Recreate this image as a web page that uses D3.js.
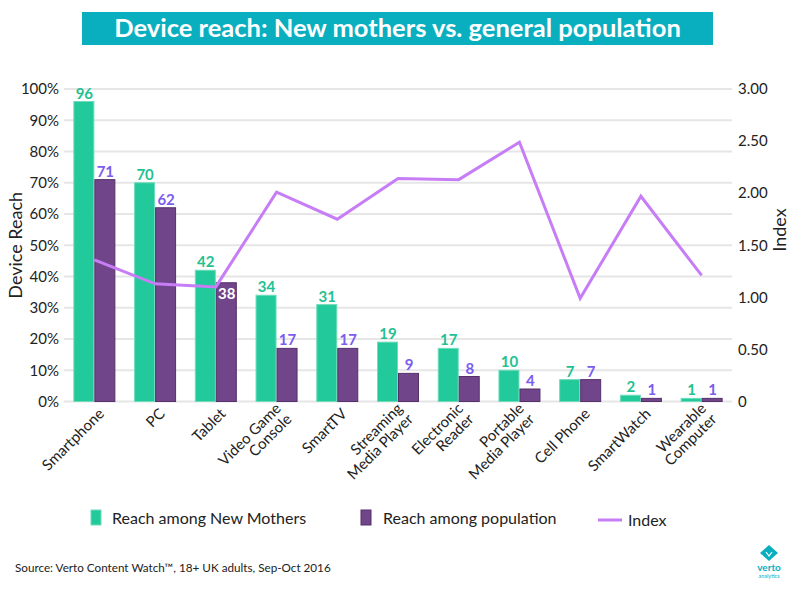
<!DOCTYPE html>
<html>
<head>
<meta charset="utf-8">
<script src="https://cdn.jsdelivr.net/npm/d3@7"></script>
<style>
  html, body { margin: 0; padding: 0; background: #fff; }
  svg { display: block; font-family: Lato, "Open Sans", sans-serif; }
</style>
</head>
<body>
<svg id="chart" width="793" height="593"></svg>
<script>
const categories = ["Smartphone", "PC", "Tablet", "Video Game\nConsole", "SmartTV",
  "Streaming\nMedia Player", "Electronic\nReader", "Portable\nMedia Player",
  "Cell Phone", "SmartWatch", "Wearable\nComputer"];
const newMothers = [96, 70, 42, 34, 31, 19, 17, 10, 7, 2, 1];
const population = [71, 62, 38, 17, 17, 9, 8, 4, 7, 1, 1];
const indexValues = [1.36, 1.13, 1.10, 2.01, 1.75, 2.14, 2.13, 2.49, 0.99, 1.97, 1.21];
const leftTicks = [0, 10, 20, 30, 40, 50, 60, 70, 80, 90, 100];
const rightTicks = [0, 0.5, 1, 1.5, 2, 2.5, 3];
const seriesNames = ["Reach among New Mothers", "Reach among population", "Index"];

const C = {
  green: "#22c99a", greenStroke: "#6fdcbb", greenLabel: "#1fc290",
  purple: "#714589", purpleStroke: "#55306b", purpleLabel: "#7b5cf0",
  line: "#c77df5", grid: "#e6e6e6", banner: "#0aafbf", text: "#222"
};

const svg = d3.select("#chart");
const m = { left: 64, right: 732, top: 89, bottom: 401.5 };

const xc = d3.scaleBand().domain(categories).range([m.left, m.right]);
const y = d3.scaleLinear().domain([0, 100]).range([m.bottom, m.top]);
const y2 = d3.scaleLinear().domain([0, 3]).range([m.bottom, m.top]);

// title banner
svg.append("rect").attr("x", 82).attr("y", 12).attr("width", 631).attr("height", 33).attr("fill", C.banner);
svg.append("text").attr("x", 397.5).attr("y", 37).attr("text-anchor", "middle")
  .attr("fill", "#fff").attr("font-size", 25.5).attr("font-weight", 700)
  .text("Device reach: New mothers vs. general population");

// gridlines
svg.append("g").selectAll("line").data(leftTicks).join("line")
  .attr("x1", m.left).attr("x2", m.right)
  .attr("y1", d => y(d)).attr("y2", d => y(d))
  .attr("stroke", C.grid).attr("stroke-width", 2);

// left axis
const la = svg.append("g").attr("transform", `translate(${m.left - 5},0)`)
  .call(d3.axisLeft(y).tickValues(leftTicks).tickFormat(d => d + "%").tickSize(0).tickPadding(0));
la.select(".domain").remove();
la.selectAll("text").attr("font-size", 15).attr("fill", C.text).attr("font-family", "Lato, sans-serif");

// right axis
const ra = svg.append("g").attr("transform", `translate(${m.right + 6},0)`)
  .call(d3.axisRight(y2).tickValues(rightTicks).tickFormat(d => d === 0 ? "0" : d3.format(".2f")(d)).tickSize(0).tickPadding(0));
ra.select(".domain").remove();
ra.selectAll("text").attr("font-size", 15).attr("fill", C.text).attr("font-family", "Lato, sans-serif");

// axis titles
svg.append("text").attr("transform", `translate(22,${(m.top + m.bottom) / 2}) rotate(-90)`)
  .attr("text-anchor", "middle").attr("font-size", 18).attr("fill", C.text).text("Device Reach");
svg.append("text").attr("transform", `translate(786,230) rotate(-90)`)
  .attr("text-anchor", "middle").attr("font-size", 18).attr("fill", C.text).text("Index");

const bw = 20;
// bars
const g = svg.append("g");
categories.forEach((c, i) => {
  const cx = xc(c) + xc.bandwidth() / 2;
  g.append("rect").attr("x", cx - bw - 0.5).attr("width", bw).attr("y", y(newMothers[i]))
    .attr("height", y(0) - y(newMothers[i])).attr("fill", C.green)
    .attr("stroke", C.greenStroke).attr("stroke-width", 1);
  g.append("rect").attr("x", cx + 0.5).attr("width", bw).attr("y", y(population[i]))
    .attr("height", y(0) - y(population[i])).attr("fill", C.purple)
    .attr("stroke", C.purpleStroke).attr("stroke-width", 1);
});

// index line
const line = d3.line().x((d, i) => xc(categories[i]) + xc.bandwidth() / 2).y(d => y2(d));
svg.append("path").datum(indexValues).attr("d", line).attr("fill", "none")
  .attr("stroke", C.line).attr("stroke-width", 3).attr("stroke-linejoin", "miter");

// value labels
categories.forEach((c, i) => {
  const cx = xc(c) + xc.bandwidth() / 2;
  svg.append("text").attr("x", cx - bw / 2).attr("y", y(newMothers[i]) - 3)
    .attr("text-anchor", "middle").attr("font-size", 15).attr("font-weight", 700)
    .attr("fill", C.greenLabel).text(newMothers[i]);
  const inside = i === 2;
  svg.append("text").attr("x", cx + bw / 2 + 1).attr("y", inside ? y(population[i]) + 16 : y(population[i]) - 3)
    .attr("text-anchor", "middle").attr("font-size", 15).attr("font-weight", 700)
    .attr("fill", inside ? "#fff" : C.purpleLabel).text(population[i]);
});

// x labels
categories.forEach(c => {
  const cx = xc(c) + xc.bandwidth() / 2;
  const lines = c.split("\n");
  const t = svg.append("text").attr("transform", `translate(${cx + 7},${411}) rotate(-45)`)
    .attr("text-anchor", "end").attr("font-size", 15).attr("fill", C.text);
  lines.forEach((l, j) => {
    t.append("tspan").attr("x", 0).attr("dy", j === 0 ? ((-(lines.length - 1) / 2) * 1.0 + 0.35) + "em" : "1.0em").text(l);
  });
});

// legend
const lg = svg.append("g");
lg.append("rect").attr("x", 91).attr("y", 510).attr("width", 10).attr("height", 15).attr("fill", C.green).attr("stroke", C.greenStroke);
lg.append("text").attr("x", 112).attr("y", 524).attr("font-size", 16).attr("fill", C.text).text(seriesNames[0]);
lg.append("rect").attr("x", 361).attr("y", 510).attr("width", 10).attr("height", 15).attr("fill", C.purple).attr("stroke", C.purpleStroke);
lg.append("text").attr("x", 383).attr("y", 524).attr("font-size", 16).attr("fill", C.text).text(seriesNames[1]);
lg.append("line").attr("x1", 598).attr("x2", 622).attr("y1", 520).attr("y2", 520).attr("stroke", C.line).attr("stroke-width", 3);
lg.append("text").attr("x", 628).attr("y", 526).attr("font-size", 16).attr("fill", C.text).text(seriesNames[2]);

// source
svg.append("text").attr("x", 15).attr("y", 572).attr("font-size", 11.7).attr("fill", C.text)
  .text("Source: Verto Content Watch\u2122, 18+ UK adults, Sep-Oct 2016");

// logo
const logo = svg.append("g").attr("transform", "translate(769,0)");
logo.append("path").attr("d", "M0,545 L9,553 L0,561 L-9,553 Z").attr("fill", C.banner);
logo.append("path").attr("d", "M-3,552 L0,556 L3,552").attr("fill", "none").attr("stroke", "#fff").attr("stroke-width", 1.2);
logo.append("text").attr("y", 571).attr("text-anchor", "middle").attr("font-size", 10).attr("font-weight", 700).attr("fill", C.banner).text("verto");
logo.append("text").attr("y", 578).attr("text-anchor", "middle").attr("font-size", 5.5).attr("fill", C.banner).text("analytics");
</script>
</body>
</html>
